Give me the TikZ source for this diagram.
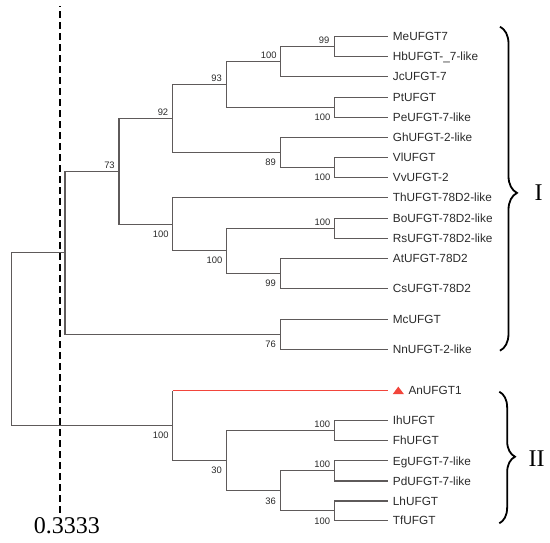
\documentclass[tikz,border=0pt]{standalone}
\usepackage{fontspec}
\setmainfont{Liberation Serif}
\setsansfont{Liberation Sans}
\usetikzlibrary{decorations.pathreplacing}
\definecolor{branchc}{HTML}{5E5A5A}
\definecolor{txt}{HTML}{2A2A2A}
\definecolor{redc}{HTML}{F2453B}
\begin{document}
\begin{tikzpicture}[x=1pt,y=-1pt,
  branch/.style={draw=branchc, line width=1.15pt},
  redbranch/.style={draw=redc, line width=1.15pt},
  leaf/.style={anchor=west, inner sep=0pt, font=\sffamily\fontsize{11.8}{13}\selectfont, text=txt, text height=8.4pt, text depth=0pt},
  boot/.style={inner sep=0pt, font=\sffamily\fontsize{9.4}{10}\selectfont, text=txt, text height=6.7pt, text depth=0pt},
  roman/.style={inner sep=0pt, font=\fontsize{24}{28}\selectfont},
  scaleline/.style={draw=black, line width=2pt, dash pattern=on 7pt off 4pt, dash phase=6pt},
  bracestyle/.style={draw=black, line width=1.8pt, decorate}]
\useasboundingbox (0,0) rectangle (550,542);

% leaves
\foreach \n/\y/\t in {Me/36.7/MeUFGT7, Hb/56.7/HbUFGT-\_7-like, Jc/76.7/JcUFGT-7, Pt/97.3/PtUFGT, Pe/117.3/PeUFGT-7-like, Gh/137.3/GhUFGT-2-like, Vl/157.3/VlUFGT, Vv/177.7/VvUFGT-2, Th/197.7/ThUFGT-78D2-like, Bo/218.3/BoUFGT-78D2-like, Rs/238.3/RsUFGT-78D2-like, At/258.3/AtUFGT-78D2, Cs/288.3/CsUFGT-78D2, Mc/319.3/McUFGT, Nn/349.3/NnUFGT-2-like, Ih/420.3/IhUFGT, Fh/440.3/FhUFGT, Eg/460.8/EgUFGT-7-like, Pd/481/PdUFGT-7-like, Lh/501/LhUFGT, Tf/520.7/TfUFGT}{
  \coordinate (\n) at (388.3,\y);
  \node[leaf] (\n-t) at (392.7,\y) {\t};
}
\coordinate (An) at (388.3,390.5);
\fill[redc] (392.7,394.2) -- (398.3,386.6) -- (404,394.2) -- cycle;
\node[leaf] (An-t) at (408.3,390.5) {AnUFGT1};

% internal nodes
\coordinate (a) at (334.3,46.7);
\coordinate (b) at (280.7,61.7);
\coordinate (c) at (334.3,107.3);
\coordinate (d) at (226.7,84.5);
\coordinate (e) at (334.3,167.5);
\coordinate (f) at (280.7,152.4);
\coordinate (g) at (172.7,118.4);
\coordinate (h) at (334.3,228.3);
\coordinate (i) at (280.7,273.3);
\coordinate (j) at (226.7,250.8);
\coordinate (k) at (172.7,224.2);
\coordinate (m) at (119,171.3);
\coordinate (n) at (280.7,334.3);
\coordinate (o) at (65,252.8);
\coordinate (p) at (334.3,430.3);
\coordinate (q) at (334.3,470.8);
\coordinate (r) at (334.3,510.8);
\coordinate (s) at (280.7,490.8);
\coordinate (u) at (226.7,460.6);
\coordinate (v) at (172.7,425.6);
\coordinate (root) at (11.7,339.2);
\coordinate (vtop) at (v|-An);

% branches
\foreach \p/\c in {a/Me, a/Hb, b/a, b/Jc, c/Pt, c/Pe, d/b, d/c, e/Vl, e/Vv, f/Gh, f/e, g/d, g/f,
  h/Bo, h/Rs, i/At, i/Cs, j/h, j/i, k/Th, k/j, m/g, m/k, n/Mc, n/Nn, o/m, o/n,
  p/Ih, p/Fh, q/Eg, q/Pd, r/Lh, r/Tf, s/q, s/r, u/p, u/s, v/u, root/o, root/v}{
  \draw[branch] (\p) |- (\c);
}
\draw[branch] (v) -- (vtop);
\draw[redbranch] (vtop) -- (An);

% bootstrap values
\foreach \x/\y/\t in {268.7/55.3/100, 324.2/40/99, 216.7/77.8/93, 322.5/116.7/100, 163/112.5/92,
  270.5/162/89, 322.5/176.7/100, 109.5/165.2/73, 322.5/222/100, 160.7/233.7/100, 214.5/260.3/100,
  270.5/283.3/99, 270.5/343.7/76, 160.7/434.7/100, 322.2/424/100, 216.7/470.3/30, 322.2/464.3/100,
  270.5/500.8/36, 322.2/521/100}{
  \node[boot] at (\x,\y) {\t};
}

% scale line
\coordinate (dtop) at (60.3,6);
\coordinate (dbot) at (60.3,515);
\draw[scaleline] (dtop) -- (dbot);
\node[roman, anchor=base] (scl) at (67,533.3) {0.3333};

% braces
\coordinate (bIa) at (500,26.7);
\coordinate (bIb) at (500,350.7);
\draw[bracestyle, decoration={brace, amplitude=17pt, aspect=0.513}] (bIa) -- (bIb);
\node[roman] (cI) at (538.5,193) {I};
\coordinate (bIIa) at (499.3,391.7);
\coordinate (bIIb) at (499.3,523.3);
\draw[bracestyle, decoration={brace, amplitude=15.7pt, aspect=0.494}] (bIIa) -- (bIIb);
\node[roman] (cII) at (536.7,459) {II};
\end{tikzpicture}
\end{document}
